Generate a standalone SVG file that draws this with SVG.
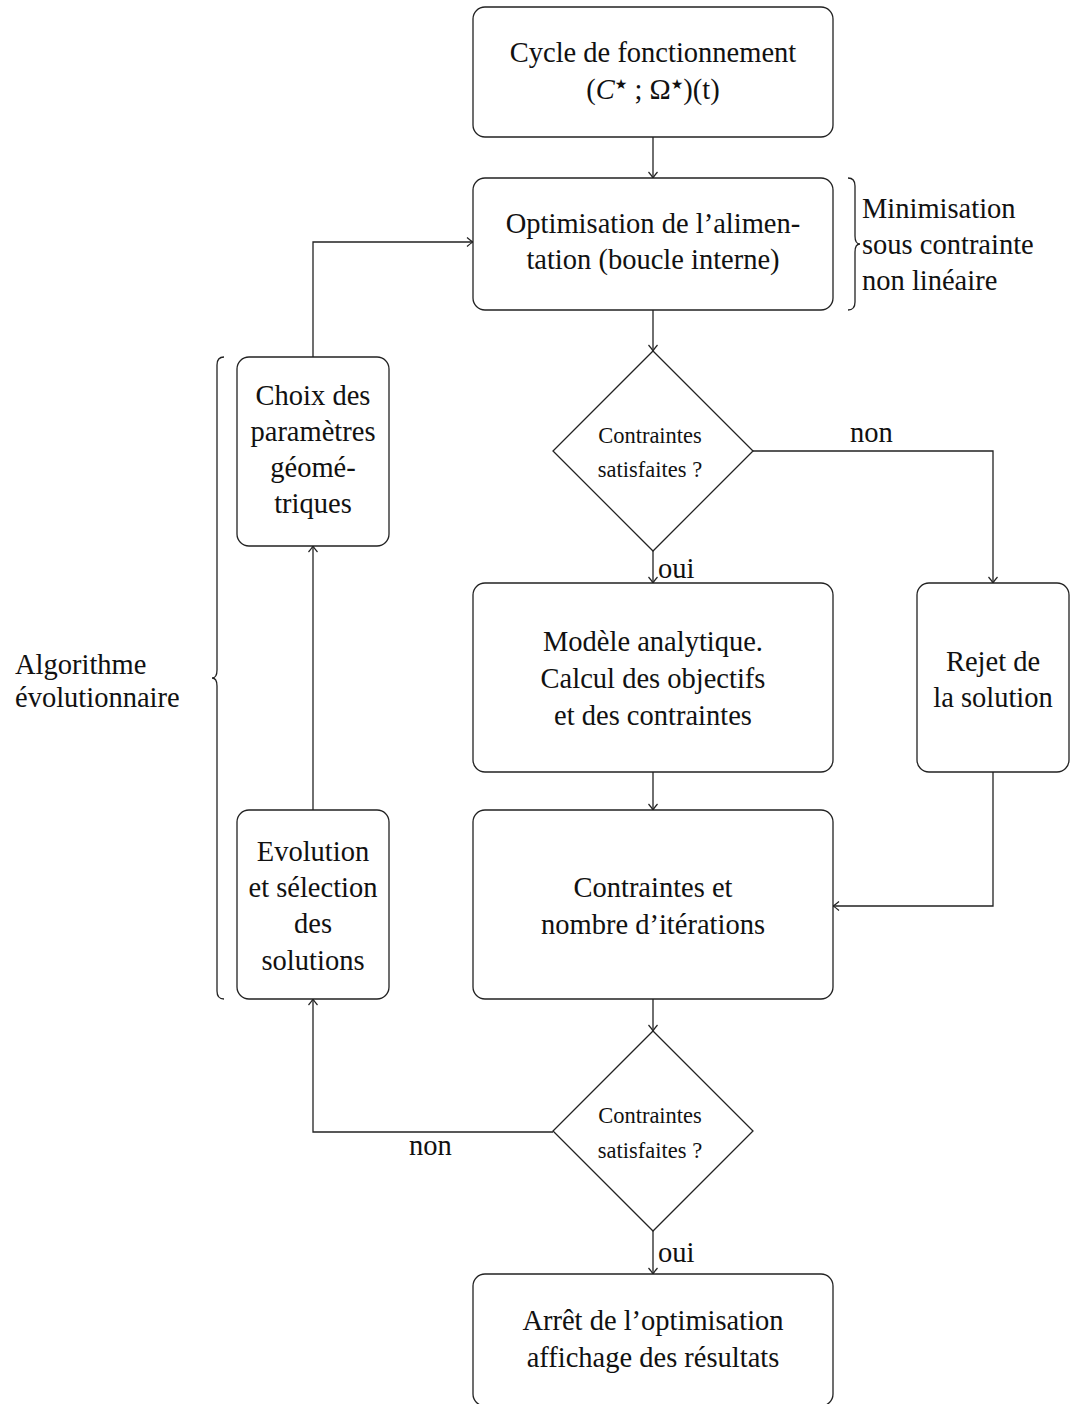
<svg xmlns="http://www.w3.org/2000/svg" width="1070" height="1404" viewBox="0 0 1070 1404">
<style>
text{font-family:"Liberation Serif","Times New Roman",serif;fill:#111;}
.t{font-size:28.5px;text-anchor:middle;}
.l{font-size:28.5px;}
.s{font-size:22.5px;text-anchor:middle;}
.st{font-family:"DejaVu Sans",sans-serif;font-size:14px;}
.box{fill:#fff;stroke:#222;stroke-width:1.3;}
.ln{fill:none;stroke:#222;stroke-width:1.3;}
</style>
<defs>
<marker id="ar" viewBox="-8 -6 10 12" markerWidth="10" markerHeight="12" refX="0" refY="0" orient="auto" markerUnits="userSpaceOnUse">
<path d="M-6,-4.5 Q-2,-1 0,0 Q-2,1 -6,4.5" fill="none" stroke="#222" stroke-width="1.2"/>
</marker>
</defs>
<rect width="1070" height="1404" fill="#fff"/>
<g id="connectors">
<path class="ln" d="M653,137 V178" marker-end="url(#ar)"/>
<path class="ln" d="M653,310 V351" marker-end="url(#ar)"/>
<path class="ln" d="M753,451 H993 V583" marker-end="url(#ar)"/>
<path class="ln" d="M653,551 V583" marker-end="url(#ar)"/>
<path class="ln" d="M653,772 V810" marker-end="url(#ar)"/>
<path class="ln" d="M993,772 V906 H833" marker-end="url(#ar)"/>
<path class="ln" d="M653,999 V1031" marker-end="url(#ar)"/>
<path class="ln" d="M553,1132 H313 V999" marker-end="url(#ar)"/>
<path class="ln" d="M313,810 V546" marker-end="url(#ar)"/>
<path class="ln" d="M313,357 V242 H473" marker-end="url(#ar)"/>
<path class="ln" d="M653,1231 V1274" marker-end="url(#ar)"/>
<text class="l" x="850" y="442">non</text>
<text class="l" x="658" y="578">oui</text>
<text class="l" x="409" y="1155">non</text>
<text class="l" x="658" y="1262">oui</text>
</g>
<g id="cycle">
<rect class="box" x="473" y="7" width="360" height="130" rx="12"/>
<text class="t" x="653" y="62">Cycle de fonctionnement</text>
<text class="t" x="653" y="99">(<tspan font-style="italic">C</tspan><tspan class="st" dy="-10">★</tspan><tspan dy="10"> ; Ω</tspan><tspan class="st" dy="-10">★</tspan><tspan dy="10">)(t)</tspan></text>
</g>
<g id="optim">
<rect class="box" x="473" y="178" width="360" height="132" rx="12"/>
<text class="t" x="653" y="233">Optimisation de l’alimen-</text>
<text class="t" x="653" y="269">tation (boucle interne)</text>
</g>
<g id="brace-min">
<path class="ln" d="M848,178 Q855,178 855,186 V236 Q855,244 860,244 Q855,244 855,252 V302 Q855,310 848,310"/>
<text class="l" x="862" y="218">Minimisation</text>
<text class="l" x="862" y="254">sous contrainte</text>
<text class="l" x="862" y="290">non linéaire</text>
</g>
<g id="diamond1">
<polygon class="box" points="653,351 753,451 653,551 553,451"/>
<text class="s" x="650" y="443">Contraintes</text>
<text class="s" x="650" y="477">satisfaites ?</text>
</g>
<g id="rejet">
<rect class="box" x="917" y="583" width="152" height="189" rx="12"/>
<text class="t" x="993" y="671">Rejet de</text>
<text class="t" x="993" y="707">la solution</text>
</g>
<g id="modele">
<rect class="box" x="473" y="583" width="360" height="189" rx="12"/>
<text class="t" x="653" y="651">Modèle analytique.</text>
<text class="t" x="653" y="688">Calcul des objectifs</text>
<text class="t" x="653" y="725">et des contraintes</text>
</g>
<g id="contraintes">
<rect class="box" x="473" y="810" width="360" height="189" rx="12"/>
<text class="t" x="653" y="897">Contraintes et</text>
<text class="t" x="653" y="934">nombre d’itérations</text>
</g>
<g id="diamond2">
<polygon class="box" points="653,1031 753,1131 653,1231 553,1131"/>
<text class="s" x="650" y="1123">Contraintes</text>
<text class="s" x="650" y="1158">satisfaites ?</text>
</g>
<g id="evolution">
<rect class="box" x="237" y="810" width="152" height="189" rx="12"/>
<text class="t" x="313" y="861">Evolution</text>
<text class="t" x="313" y="897">et sélection</text>
<text class="t" x="313" y="933">des</text>
<text class="t" x="313" y="970">solutions</text>
</g>
<g id="choix">
<rect class="box" x="237" y="357" width="152" height="189" rx="12"/>
<text class="t" x="313" y="405">Choix des</text>
<text class="t" x="313" y="441">paramètres</text>
<text class="t" x="313" y="477">géomé-</text>
<text class="t" x="313" y="513">triques</text>
</g>
<g id="arret">
<rect class="box" x="473" y="1274" width="360" height="132" rx="12"/>
<text class="t" x="653" y="1330">Arrêt de l’optimisation</text>
<text class="t" x="653" y="1367">affichage des résultats</text>
</g>
<g id="brace-algo">
<path class="ln" d="M224,357 Q217,357 217,365 V670 Q217,678 212,678 Q217,678 217,686 V991 Q217,999 224,999"/>
<text class="l" x="15" y="674" font-size="30">Algorithme</text>
<text class="l" x="15" y="707" font-size="30">évolutionnaire</text>
</g>
</svg>
